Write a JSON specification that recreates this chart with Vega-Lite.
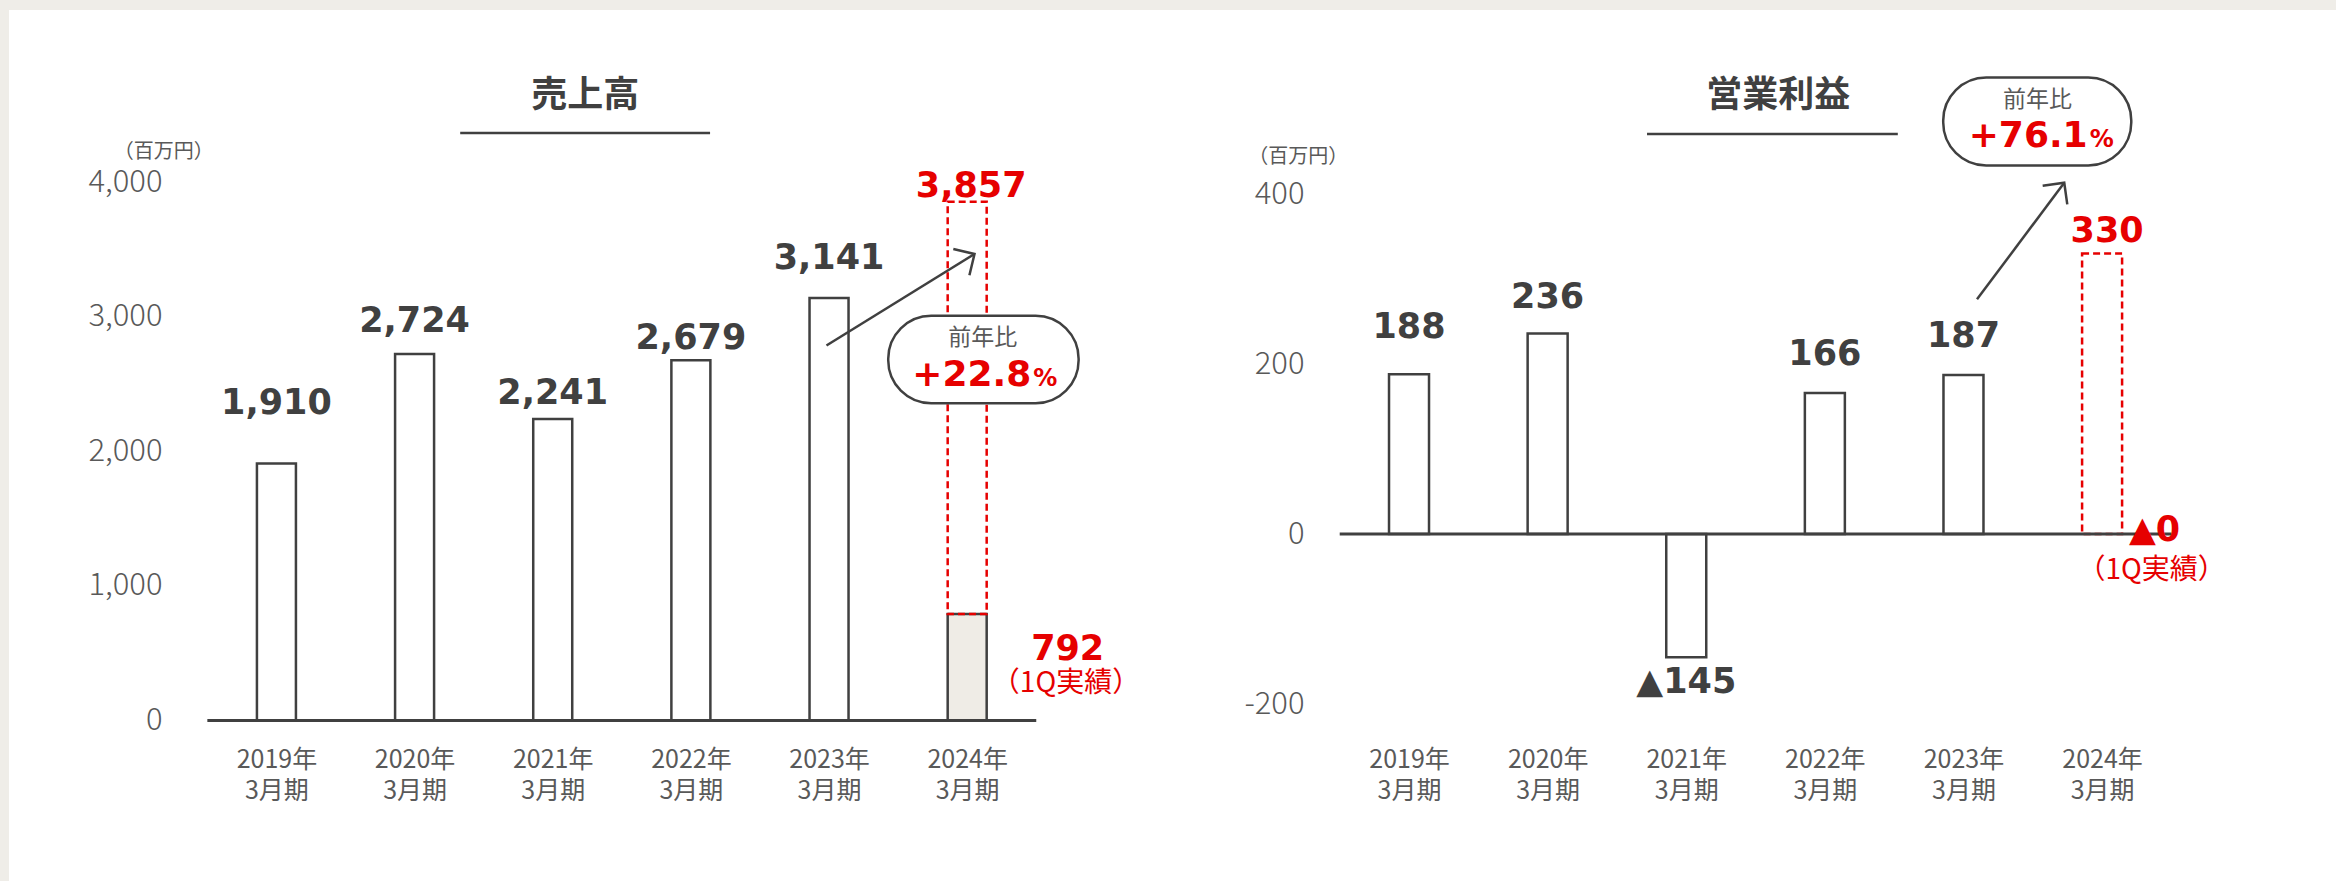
{
  "$schema": "https://vega.github.io/schema/vega-lite/v6.json",
  "background": "#efede8",
  "padding": {"left": 9, "top": 10, "right": 0, "bottom": 0},
  "autosize": {"type": "pad"},
  "bounds": "flush",
  "spacing": 0,
  "config": {
    "view": {"fill": "#ffffff", "stroke": null},
    "font": "Noto Sans CJK JP",
    "axis": {"labelOverlap": false, "labelBound": false, "labelFlush": false}
  },
  "datasets": {
    "sales": [
      {"year": 2019, "value": 1910},
      {"year": 2020, "value": 2724},
      {"year": 2021, "value": 2241},
      {"year": 2022, "value": 2679},
      {"year": 2023, "value": 3141}
    ],
    "sales2024": [{"year": 2024, "q1": 792, "forecast": 3857}],
    "profit": [
      {"year": 2019, "value": 188, "label": "188"},
      {"year": 2020, "value": 236, "label": "236"},
      {"year": 2021, "value": -145, "label": "▲145"},
      {"year": 2022, "value": 166, "label": "166"},
      {"year": 2023, "value": 187, "label": "187"}
    ],
    "profit2024": [{"year": 2024, "q1": 0, "forecast": 330, "q1label": "▲0"}]
  },
  "hconcat": [
    {
      "width": 1179,
      "height": 871,
      "layer": [
        {
          "data": {"name": "sales"},
          "mark": {"type": "bar", "orient": "vertical", "size": 39, "fill": "#ffffff", "stroke": "#404040", "strokeWidth": 2.5},
          "encoding": {
            "x": {"field": "year", "type": "quantitative",
              "scale": {"domain": [2017.1004, 2025.5622], "nice": false, "zero": false},
              "axis": {"orient": "bottom", "values": [2019, 2020, 2021, 2022, 2023, 2024], "labelExpr": "[datum.value + '年', '3月期']", "domain": false, "ticks": false, "grid": false, "title": null, "offset": -136, "labelPadding": 2, "labelBaseline": "top", "labelFlush": false, "labelFontSize": 25, "labelLineHeight": 31, "labelColor": "#595959", "labelFont": "Noto Sans CJK JP"}},
            "y": {"field": "value", "type": "quantitative",
              "scale": {"domain": [-1193.3, 5282.5], "nice": false, "zero": false},
              "axis": {"orient": "left", "values": [0, 1000, 2000, 3000, 4000], "labelExpr": "format(datum.value, ',')", "domain": false, "ticks": false, "grid": false, "title": null, "offset": -195, "labelPadding": 42, "labelFontSize": 31, "labelColor": "#595959", "labelFont": "Noto Sans CJK JP", "labelFontWeight": 300}},
            "y2": {"datum": 0}
          }
        },
        {
          "data": {"name": "sales2024"},
          "mark": {"type": "bar", "orient": "vertical", "size": 39, "fill": "#efece6", "stroke": "#404040", "strokeWidth": 2.5},
          "encoding": {
            "x": {"field": "year", "type": "quantitative"},
            "y": {"field": "q1", "type": "quantitative"},
            "y2": {"datum": 0}
          }
        },
        {
          "data": {"name": "sales2024"},
          "mark": {"type": "bar", "orient": "vertical", "size": 39, "fillOpacity": 0, "fill": "#ffffff", "stroke": "#e60000", "strokeWidth": 2.5, "strokeDash": [7, 4]},
          "encoding": {
            "x": {"field": "year", "type": "quantitative"},
            "y": {"field": "forecast", "type": "quantitative"},
            "y2": {"field": "q1"}
          }
        },
        {
          "data": {"values": [{}]},
          "mark": {"type": "rule", "color": "#404040", "strokeWidth": 3},
          "encoding": {
            "x": {"datum": 2018.5, "type": "quantitative"},
            "x2": {"datum": 2024.5},
            "y": {"datum": 0, "type": "quantitative"}
          }
        },
        {
          "data": {"name": "sales"},
          "transform": [{"filter": "datum.year == 2019"}],
          "mark": {"type": "text", "font": "DejaVu Sans", "fontWeight": "bold", "fontSize": 35, "color": "#404040", "baseline": "alphabetic", "dy": -50},
          "encoding": {
            "x": {"field": "year", "type": "quantitative"},
            "y": {"field": "value", "type": "quantitative"},
            "text": {"field": "value", "format": ","}
          }
        },
        {
          "data": {"name": "sales"},
          "transform": [{"filter": "datum.year == 2020"}],
          "mark": {"type": "text", "font": "DejaVu Sans", "fontWeight": "bold", "fontSize": 35, "color": "#404040", "baseline": "alphabetic", "dy": -22},
          "encoding": {
            "x": {"field": "year", "type": "quantitative"},
            "y": {"field": "value", "type": "quantitative"},
            "text": {"field": "value", "format": ","}
          }
        },
        {
          "data": {"name": "sales"},
          "transform": [{"filter": "datum.year == 2021"}],
          "mark": {"type": "text", "font": "DejaVu Sans", "fontWeight": "bold", "fontSize": 35, "color": "#404040", "baseline": "alphabetic", "dy": -15},
          "encoding": {
            "x": {"field": "year", "type": "quantitative"},
            "y": {"field": "value", "type": "quantitative"},
            "text": {"field": "value", "format": ","}
          }
        },
        {
          "data": {"name": "sales"},
          "transform": [{"filter": "datum.year == 2022"}],
          "mark": {"type": "text", "font": "DejaVu Sans", "fontWeight": "bold", "fontSize": 35, "color": "#404040", "baseline": "alphabetic", "dy": -11},
          "encoding": {
            "x": {"field": "year", "type": "quantitative"},
            "y": {"field": "value", "type": "quantitative"},
            "text": {"field": "value", "format": ","}
          }
        },
        {
          "data": {"name": "sales"},
          "transform": [{"filter": "datum.year == 2023"}],
          "mark": {"type": "text", "font": "DejaVu Sans", "fontWeight": "bold", "fontSize": 35, "color": "#404040", "baseline": "alphabetic", "dy": -29},
          "encoding": {
            "x": {"field": "year", "type": "quantitative"},
            "y": {"field": "value", "type": "quantitative"},
            "text": {"field": "value", "format": ","}
          }
        },
        {
          "data": {"name": "sales2024"},
          "mark": {"type": "text", "font": "DejaVu Sans", "fontWeight": "bold", "fontSize": 35, "color": "#e60000", "baseline": "alphabetic", "dy": -5, "dx": 4},
          "encoding": {
            "x": {"field": "year", "type": "quantitative"},
            "y": {"field": "forecast", "type": "quantitative"},
            "text": {"field": "forecast", "format": ","}
          }
        },
        {
          "data": {"name": "sales2024"},
          "mark": {"type": "text", "font": "DejaVu Sans", "fontWeight": "bold", "fontSize": 35, "color": "#e60000", "baseline": "alphabetic", "align": "center"},
          "encoding": {
            "x": {"datum": 2024.7276, "type": "quantitative"},
            "y": {"datum": 448, "type": "quantitative"},
            "text": {"field": "q1", "format": ","}
          }
        },
        {
          "data": {"values": [{}]},
          "mark": {"type": "text", "text": "（1Q実績）", "font": "Noto Sans CJK JP", "fontSize": 28, "color": "#e60000", "baseline": "middle", "align": "center"},
          "encoding": {
            "x": {"datum": 2024.7154, "type": "quantitative"},
            "y": {"datum": 268, "type": "quantitative"}
          }
        },
        {
          "data": {"values": [{}]},
          "mark": {"type": "rule", "color": "#404040", "strokeWidth": 2.5},
          "encoding": {
            "x": {"datum": 2022.9814, "type": "quantitative"},
            "y": {"datum": 2788.1, "type": "quantitative"},
            "x2": {"datum": 2024.053},
            "y2": {"datum": 3468.4}
          }
        },
        {
          "data": {"values": [{}]},
          "mark": {"type": "point", "shape": "M -1 1 L 0 0 L 1 1", "filled": false, "stroke": "#404040", "strokeWidth": 2.5, "size": 950, "angle": 58.5, "opacity": 1},
          "encoding": {
            "x": {"datum": 2024.053, "type": "quantitative"},
            "y": {"datum": 3468.4, "type": "quantitative"}
          }
        },
        {
          "data": {"values": [{}]},
          "mark": {"type": "rect", "fill": "#ffffff", "stroke": "#404040", "strokeWidth": 2.5, "cornerRadius": 43},
          "encoding": {
            "x": {"datum": 2023.4285, "type": "quantitative"},
            "x2": {"datum": 2024.8066},
            "y": {"datum": 3009.7, "type": "quantitative"},
            "y2": {"datum": 2358.4}
          }
        },
        {
          "data": {"values": [{}]},
          "mark": {"type": "text", "text": "前年比", "font": "Noto Sans CJK JP", "fontSize": 23, "color": "#595959", "baseline": "middle", "align": "center"},
          "encoding": {
            "x": {"datum": 2024.1126, "type": "quantitative"},
            "y": {"datum": 2845, "type": "quantitative"}
          }
        },
        {
          "data": {"values": [{}]},
          "mark": {"type": "text", "text": "+22.8", "font": "DejaVu Sans", "fontWeight": "bold", "fontSize": 36, "color": "#e60000", "baseline": "alphabetic", "align": "right"},
          "encoding": {
            "x": {"datum": 2024.4643, "type": "quantitative"},
            "y": {"datum": 2487, "type": "quantitative"}
          }
        },
        {
          "data": {"values": [{}]},
          "mark": {"type": "text", "text": "%", "font": "DejaVu Sans", "fontWeight": "bold", "fontSize": 24, "color": "#e60000", "baseline": "alphabetic", "align": "left"},
          "encoding": {
            "x": {"datum": 2024.4787, "type": "quantitative"},
            "y": {"datum": 2487, "type": "quantitative"}
          }
        },
        {
          "data": {"values": [{}]},
          "mark": {"type": "text", "text": "売上高", "font": "Noto Sans CJK JP", "fontWeight": "bold", "fontSize": 36, "color": "#404040", "baseline": "middle", "align": "center"},
          "encoding": {
            "x": {"datum": 2021.2345, "type": "quantitative"},
            "y": {"datum": 4646.8, "type": "quantitative"}
          }
        },
        {
          "data": {"values": [{}]},
          "mark": {"type": "rule", "color": "#404040", "strokeWidth": 2.5},
          "encoding": {
            "x": {"datum": 2020.3302, "type": "quantitative"},
            "x2": {"datum": 2022.1388},
            "y": {"datum": 4368, "type": "quantitative"}
          }
        },
        {
          "data": {"values": [{}]},
          "mark": {"type": "text", "text": "（百万円）", "font": "Noto Sans CJK JP", "fontSize": 20, "color": "#595959", "baseline": "middle", "align": "center"},
          "encoding": {
            "x": {"datum": 2018.184, "type": "quantitative"},
            "y": {"datum": 4225, "type": "quantitative"}
          }
        }
      ]
    },
    {
      "width": 1148,
      "height": 871,
      "layer": [
        {
          "data": {"name": "profit"},
          "mark": {"type": "bar", "orient": "vertical", "size": 40, "fill": "#ffffff", "stroke": "#404040", "strokeWidth": 2.5},
          "encoding": {
            "x": {"field": "year", "type": "quantitative",
              "scale": {"domain": [2017.4416, 2025.6514], "nice": false, "zero": false},
              "axis": {"orient": "bottom", "values": [2019, 2020, 2021, 2022, 2023, 2024], "labelExpr": "[datum.value + '年', '3月期']", "domain": false, "ticks": false, "grid": false, "title": null, "offset": -136, "labelPadding": 2, "labelBaseline": "top", "labelFlush": false, "labelFontSize": 25, "labelLineHeight": 31, "labelColor": "#595959", "labelFont": "Noto Sans CJK JP"}},
            "y": {"field": "value", "type": "quantitative",
              "scale": {"domain": [-408.2, 616.5], "nice": false, "zero": false},
              "axis": {"orient": "left", "values": [-200, 0, 200, 400], "labelExpr": "'' + datum.value", "domain": false, "ticks": false, "grid": false, "title": null, "offset": -148, "labelPadding": 32, "labelFontSize": 31, "labelColor": "#595959", "labelFont": "Noto Sans CJK JP", "labelFontWeight": 300}},
            "y2": {"datum": 0}
          }
        },
        {
          "data": {"name": "profit2024"},
          "mark": {"type": "bar", "orient": "vertical", "size": 40, "fillOpacity": 0, "fill": "#ffffff", "stroke": "#e60000", "strokeWidth": 2.5, "strokeDash": [7, 4]},
          "encoding": {
            "x": {"field": "year", "type": "quantitative"},
            "y": {"field": "forecast", "type": "quantitative"},
            "y2": {"field": "q1"}
          }
        },
        {
          "data": {"values": [{}]},
          "mark": {"type": "rule", "color": "#404040", "strokeWidth": 3},
          "encoding": {
            "x": {"datum": 2018.5, "type": "quantitative"},
            "x2": {"datum": 2024.5},
            "y": {"datum": 0, "type": "quantitative"}
          }
        },
        {
          "data": {"name": "profit"},
          "transform": [{"filter": "datum.year == 2019"}],
          "mark": {"type": "text", "font": "DejaVu Sans", "fontWeight": "bold", "fontSize": 35, "color": "#404040", "baseline": "alphabetic", "dy": -36},
          "encoding": {
            "x": {"field": "year", "type": "quantitative"},
            "y": {"field": "value", "type": "quantitative"},
            "text": {"field": "label"}
          }
        },
        {
          "data": {"name": "profit"},
          "transform": [{"filter": "datum.year == 2020"}],
          "mark": {"type": "text", "font": "DejaVu Sans", "fontWeight": "bold", "fontSize": 35, "color": "#404040", "baseline": "alphabetic", "dy": -25},
          "encoding": {
            "x": {"field": "year", "type": "quantitative"},
            "y": {"field": "value", "type": "quantitative"},
            "text": {"field": "label"}
          }
        },
        {
          "data": {"name": "profit"},
          "transform": [{"filter": "datum.year == 2022 || datum.year == 2023"}],
          "mark": {"type": "text", "font": "DejaVu Sans", "fontWeight": "bold", "fontSize": 35, "color": "#404040", "baseline": "alphabetic", "dy": -28},
          "encoding": {
            "x": {"field": "year", "type": "quantitative"},
            "y": {"field": "value", "type": "quantitative"},
            "text": {"field": "label"}
          }
        },
        {
          "data": {"name": "profit"},
          "transform": [{"filter": "datum.value < 0"}],
          "mark": {"type": "text", "font": "DejaVu Sans", "fontWeight": "bold", "fontSize": 35, "color": "#404040", "baseline": "top", "dy": 8},
          "encoding": {
            "x": {"field": "year", "type": "quantitative"},
            "y": {"field": "value", "type": "quantitative"},
            "text": {"field": "label"}
          }
        },
        {
          "data": {"name": "profit2024"},
          "mark": {"type": "text", "font": "DejaVu Sans", "fontWeight": "bold", "fontSize": 35, "color": "#e60000", "baseline": "alphabetic", "dy": -12, "dx": 5},
          "encoding": {
            "x": {"field": "year", "type": "quantitative"},
            "y": {"field": "forecast", "type": "quantitative"},
            "text": {"field": "forecast"}
          }
        },
        {
          "data": {"name": "profit2024"},
          "mark": {"type": "text", "font": "DejaVu Sans", "fontWeight": "bold", "fontSize": 35, "color": "#e60000", "baseline": "alphabetic", "align": "center"},
          "encoding": {
            "x": {"datum": 2024.3786, "type": "quantitative"},
            "y": {"datum": -8.2, "type": "quantitative"},
            "text": {"field": "q1label"}
          }
        },
        {
          "data": {"values": [{}]},
          "mark": {"type": "text", "text": "（1Q実績）", "font": "Noto Sans CJK JP", "fontSize": 28, "color": "#e60000", "baseline": "middle", "align": "center"},
          "encoding": {
            "x": {"datum": 2024.357, "type": "quantitative"},
            "y": {"datum": -43, "type": "quantitative"}
          }
        },
        {
          "data": {"values": [{}]},
          "mark": {"type": "rule", "color": "#404040", "strokeWidth": 2.5},
          "encoding": {
            "x": {"datum": 2023.0977, "type": "quantitative"},
            "y": {"datum": 276.1, "type": "quantitative"},
            "x2": {"datum": 2023.727},
            "y2": {"datum": 413.3}
          }
        },
        {
          "data": {"values": [{}]},
          "mark": {"type": "point", "shape": "M -1 1 L 0 0 L 1 1", "filled": false, "stroke": "#404040", "strokeWidth": 2.5, "size": 950, "angle": 37, "opacity": 1},
          "encoding": {
            "x": {"datum": 2023.727, "type": "quantitative"},
            "y": {"datum": 413.3, "type": "quantitative"}
          }
        },
        {
          "data": {"values": [{}]},
          "mark": {"type": "rect", "fill": "#ffffff", "stroke": "#404040", "strokeWidth": 2.5, "cornerRadius": 43},
          "encoding": {
            "x": {"datum": 2022.8538, "type": "quantitative"},
            "x2": {"datum": 2024.2105},
            "y": {"datum": 537.1, "type": "quantitative"},
            "y2": {"datum": 433.5}
          }
        },
        {
          "data": {"values": [{}]},
          "mark": {"type": "text", "text": "前年比", "font": "Noto Sans CJK JP", "fontSize": 23, "color": "#595959", "baseline": "middle", "align": "center"},
          "encoding": {
            "x": {"datum": 2023.5347, "type": "quantitative"},
            "y": {"datum": 511, "type": "quantitative"}
          }
        },
        {
          "data": {"values": [{}]},
          "mark": {"type": "text", "text": "+76.1", "font": "DejaVu Sans", "fontWeight": "bold", "fontSize": 36, "color": "#e60000", "baseline": "alphabetic", "align": "right"},
          "encoding": {
            "x": {"datum": 2023.896, "type": "quantitative"},
            "y": {"datum": 455, "type": "quantitative"}
          }
        },
        {
          "data": {"values": [{}]},
          "mark": {"type": "text", "text": "%", "font": "DejaVu Sans", "fontWeight": "bold", "fontSize": 24, "color": "#e60000", "baseline": "alphabetic", "align": "left"},
          "encoding": {
            "x": {"datum": 2023.9103, "type": "quantitative"},
            "y": {"datum": 455, "type": "quantitative"}
          }
        },
        {
          "data": {"values": [{}]},
          "mark": {"type": "text", "text": "営業利益", "font": "Noto Sans CJK JP", "fontWeight": "bold", "fontSize": 36, "color": "#404040", "baseline": "middle", "align": "center"},
          "encoding": {
            "x": {"datum": 2021.6645, "type": "quantitative"},
            "y": {"datum": 515.9, "type": "quantitative"}
          }
        },
        {
          "data": {"values": [{}]},
          "mark": {"type": "rule", "color": "#404040", "strokeWidth": 2.5},
          "encoding": {
            "x": {"datum": 2020.717, "type": "quantitative"},
            "x2": {"datum": 2022.5263},
            "y": {"datum": 470.6, "type": "quantitative"}
          }
        },
        {
          "data": {"values": [{}]},
          "mark": {"type": "text", "text": "（百万円）", "font": "Noto Sans CJK JP", "fontSize": 20, "color": "#595959", "baseline": "middle", "align": "center"},
          "encoding": {
            "x": {"datum": 2018.2, "type": "quantitative"},
            "y": {"datum": 443, "type": "quantitative"}
          }
        }
      ]
    }
  ]
}
